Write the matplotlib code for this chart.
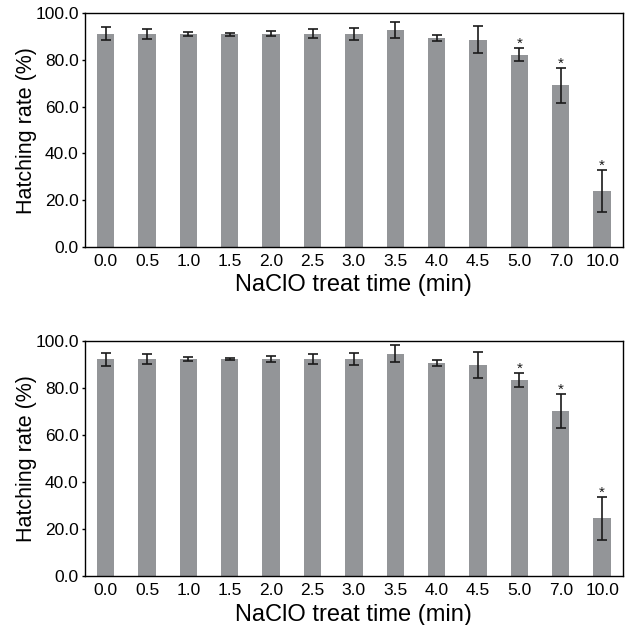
import matplotlib
matplotlib.use("Agg")
import matplotlib.pyplot as plt
import numpy as np

plt.rcParams['font.family'] = ['Liberation Sans', 'DejaVu Sans']

categories = ["0.0", "0.5", "1.0", "1.5", "2.0", "2.5", "3.0", "3.5", "4.0", "4.5", "5.0", "7.0", "10.0"]
top_values = [91.2, 91.2, 91.2, 90.9, 91.2, 91.2, 91.2, 92.9, 89.5, 88.7, 82.3, 69.1, 23.8]
top_errors = [2.7, 2.1, 0.9, 0.6, 1.1, 2.0, 2.6, 3.5, 1.3, 5.6, 2.8, 7.5, 9.0]
bottom_values = [92.3, 92.3, 92.3, 92.3, 92.3, 92.3, 92.3, 94.5, 90.6, 89.8, 83.4, 70.2, 24.6]
bottom_errors = [2.8, 2.0, 1.0, 0.5, 1.3, 2.0, 2.6, 3.6, 1.3, 5.5, 2.8, 7.4, 9.2]
significant = [False]*10 + [True, True, True]
yticks = [0, 20, 40, 60, 80, 100]

fig = plt.figure(figsize=(6.31, 6.25), dpi=100)
ax1 = fig.add_axes([0.1347, 0.6048, 0.8523, 0.3742])
ax2 = fig.add_axes([0.1347, 0.0784, 0.8523, 0.3760])

for ax, vals, errs in [(ax1, top_values, top_errors), (ax2, bottom_values, bottom_errors)]:
    x = np.arange(len(categories))
    ax.bar(x, vals, width=0.42, color="#939598", zorder=2)
    ax.errorbar(x, vals, yerr=errs, fmt='none', ecolor='#1a1a1a', elinewidth=1.2,
                capsize=3.5, capthick=1.2, zorder=3)
    for xi, v, e, s in zip(x, vals, errs, significant):
        if s:
            ax.text(xi, v + e - 1.2, "*", ha='center', va='bottom', fontsize=11, color='#1a1a1a')
    ax.set_xlim(-0.5, len(categories) - 0.5)
    ax.set_ylim(0, 100)
    ax.set_xticks(x)
    ax.set_xticklabels(categories)
    ax.set_yticks(yticks)
    ax.set_yticklabels([f"{t:.1f}" for t in yticks])
    ax.tick_params(axis='x', length=0, labelsize=12.5, pad=5)
    ax.tick_params(axis='y', length=2.5, width=1.0, direction='out', labelsize=12.5, pad=2)
    for sp in ax.spines.values():
        sp.set_linewidth(1.0)
    ax.set_ylabel("Hatching rate (%)", fontsize=15.5, labelpad=-1)
    ax.set_xlabel("NaClO treat time (min)", fontsize=17, labelpad=4)

fig.savefig("out.png", dpi=100)
